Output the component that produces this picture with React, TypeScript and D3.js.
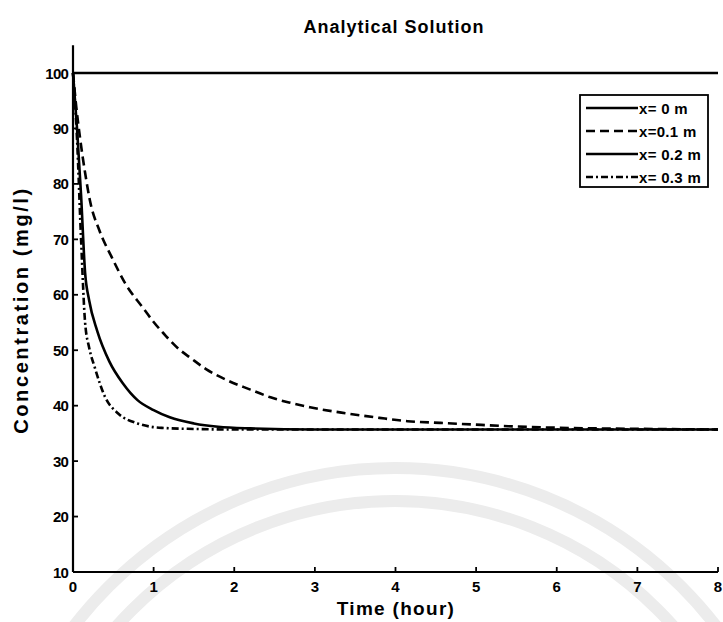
import React from "react";
import * as d3 from "d3";

const timeX0 = [0, 8];
const concX0 = [100, 100];

const timeX01 = [0, 0.04, 0.09, 0.15, 0.21, 0.33, 0.48, 0.65, 0.86, 1.0, 1.15, 1.33, 1.45, 1.65, 1.91, 2.2, 2.45, 2.7, 2.94, 3.4, 3.8, 4.15, 4.55, 4.97, 5.4, 5.8, 6.5, 7.2, 8];
const concX01 = [100, 94, 88, 82, 77, 71.5, 66.8, 62, 57.8, 55.1, 52.6, 50, 48.7, 46.6, 44.6, 42.9, 41.5, 40.5, 39.7, 38.6, 37.8, 37.2, 36.9, 36.6, 36.3, 36.1, 35.9, 35.8, 35.7];

const timeX02 = [0, 0.05, 0.1, 0.15, 0.2, 0.3, 0.45, 0.62, 0.8, 1.0, 1.2, 1.5, 1.8, 2.2, 3, 8];
const concX02 = [100, 90, 78, 64, 59, 53.5, 48, 44, 41, 39.2, 37.9, 36.8, 36.2, 35.9, 35.7, 35.7];

const timeX03 = [0, 0.05, 0.1, 0.15, 0.2, 0.27, 0.4, 0.56, 0.8, 1.1, 1.5, 2, 8];
const concX03 = [100, 88, 70, 55, 50.5, 46.9, 41.5, 38.6, 36.8, 36.0, 35.8, 35.7, 35.7];

const xTicks = [0, 1, 2, 3, 4, 5, 6, 7, 8];
const yTicks = [10, 20, 30, 40, 50, 60, 70, 80, 90, 100];
const legendLabels = ["x= 0 m", "x=0.1 m", "x= 0.2 m", "x= 0.3 m"];
const dashes = ["none", "9,5", "none", "7,3,2,3"];

export default function App() {
  const W = 723, H = 622;
  const x = d3.scaleLinear().domain([0, 8]).range([73, 718]);
  const y = d3.scaleLinear().domain([10, 105]).range([572, 45.3]);
  const line = d3.line<[number, number]>().x(d => x(d[0])).y(d => y(d[1])).curve(d3.curveMonotoneX);
  const series = [
    [timeX0, concX0],
    [timeX01, concX01],
    [timeX02, concX02],
    [timeX03, concX03],
  ].map(([t, c]) => t.map((v, i) => [v, c[i]] as [number, number]));
  const font = "'Liberation Sans', Arial, sans-serif";
  return (
    <svg width={W} height={H} style={{ position: "absolute", left: 0, top: 0, background: "#fff" }}>
      <g fill="none" stroke="#ececec" strokeWidth={12}>
        <circle cx={395} cy={873} r={405} />
        <circle cx={395} cy={873} r={372} />
      </g>
      <text x={394} y={33} textAnchor="middle" fontFamily={font} fontWeight="bold" fontSize={18} letterSpacing={1}>Analytical Solution</text>
      {series.map((s, i) => (
        <path key={i} d={line(s) || ""} fill="none" stroke="#000" strokeWidth={i === 0 ? 2.4 : 2.6}
          strokeDasharray={dashes[i]} />
      ))}
      <line x1={x(0)} x2={x(0)} y1={y(105)} y2={y(10)} stroke="#000" strokeWidth={2.2} />
      <line x1={x(0)} x2={x(8)} y1={y(10)} y2={y(10)} stroke="#000" strokeWidth={2.2} />
      {xTicks.map(t => (
        <g key={t}>
          <line x1={x(t)} x2={x(t)} y1={y(10)} y2={y(10) - 5} stroke="#000" strokeWidth={1.8} />
          <text x={x(t)} y={y(10) + 20} textAnchor="middle" fontFamily={font} fontWeight="bold" fontSize={15}>{t}</text>
        </g>
      ))}
      {yTicks.map(t => (
        <g key={t}>
          <line x1={x(0)} x2={x(0) + 5} y1={y(t)} y2={y(t)} stroke="#000" strokeWidth={1.8} />
          <text x={x(0) - 5} y={y(t) + 5.5} textAnchor="end" fontFamily={font} fontWeight="bold" fontSize={15} letterSpacing={-0.8}>{t}</text>
        </g>
      ))}
      <text x={396} y={615} textAnchor="middle" fontFamily={font} fontWeight="bold" fontSize={19} letterSpacing={1.3}>Time (hour)</text>
      <text transform="translate(28,310) rotate(-90)" textAnchor="middle" fontFamily={font} fontWeight="bold" fontSize={20} letterSpacing={2.6}>Concentration (mg/l)</text>
      <g>
        <rect x={580} y={95} width={128} height={92} fill="#fff" stroke="#000" strokeWidth={1.8} />
        {legendLabels.map((lab, i) => {
          const ly = 108 + i * 23;
          return (
            <g key={lab}>
              <line x1={586} x2={638} y1={ly} y2={ly} stroke="#000" strokeWidth={2.4} strokeDasharray={dashes[i]} />
              <text x={639} y={ly + 5.5} fontFamily={font} fontWeight="bold" fontSize={15} letterSpacing={0.3}>{lab}</text>
            </g>
          );
        })}
      </g>
    </svg>
  );
}
